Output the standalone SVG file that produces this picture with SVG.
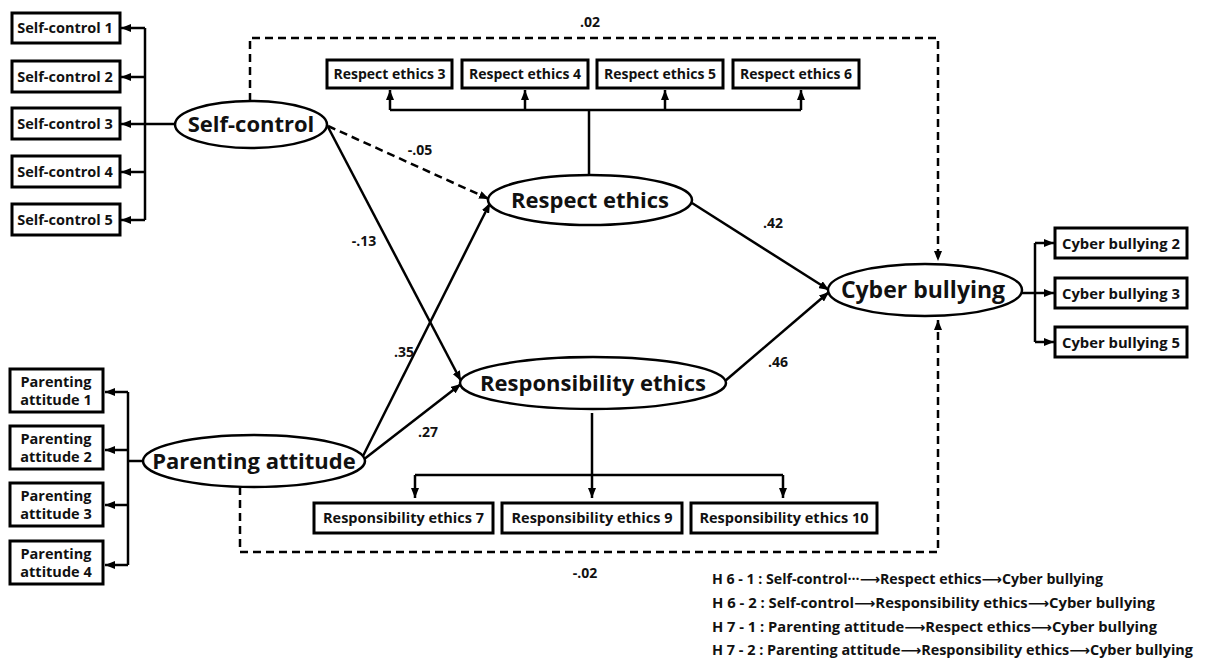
<svg xmlns="http://www.w3.org/2000/svg" width="1208" height="660" viewBox="0 0 1208 660">
<defs>
<marker id="ah" markerUnits="userSpaceOnUse" markerWidth="10" markerHeight="8" refX="10" refY="4" orient="auto">
<path d="M0,0 L10,4 L0,8 z" fill="#000"/>
</marker>
<style>
.box{fill:#fff;stroke:#000;stroke-width:3}
.ell{fill:#fff;stroke:#000;stroke-width:2.5}
.t{font-family:"Open Sans","Noto Sans",sans-serif;font-weight:700;fill:#111;text-anchor:middle}
.bp{font-size:14.5px}
.br{font-size:14px}
.bs{font-size:14.5px}
.bc{font-size:14.8px}
.el{font-size:22px}
.lbl{font-family:"Open Sans","Noto Sans",sans-serif;font-weight:700;font-size:14px;fill:#111;text-anchor:middle}
.lg{font-family:"Open Sans","Noto Sans","DejaVu Sans",sans-serif;font-weight:700;font-size:14px;fill:#111}
.c{fill:none;stroke:#000;stroke-width:2.5}
.d{fill:none;stroke:#000;stroke-width:2.5;stroke-dasharray:8,5}
.a{marker-end:url(#ah)}
</style>
</defs>
<rect width="1208" height="660" fill="#fff"/>

<g id="connectors">
<line class="c" x1="175" y1="124" x2="145" y2="124"/>
<line class="c" x1="145" y1="28" x2="145" y2="220"/>
<line class="c a" x1="145" y1="28" x2="121" y2="28"/>
<line class="c a" x1="145" y1="77" x2="121" y2="77"/>
<line class="c a" x1="145" y1="124" x2="121" y2="124"/>
<line class="c a" x1="145" y1="172" x2="121" y2="172"/>
<line class="c a" x1="145" y1="220" x2="121" y2="220"/>
<line class="c" x1="143" y1="461" x2="128" y2="461"/>
<line class="c" x1="128" y1="392" x2="128" y2="565"/>
<line class="c a" x1="128" y1="392" x2="105" y2="392"/>
<line class="c a" x1="128" y1="450" x2="105" y2="450"/>
<line class="c a" x1="128" y1="505" x2="105" y2="505"/>
<line class="c a" x1="128" y1="565" x2="105" y2="565"/>
<line class="c" x1="589" y1="175" x2="589" y2="110"/>
<line class="c" x1="390" y1="110" x2="801" y2="110"/>
<line class="c a" x1="390" y1="110" x2="390" y2="90"/>
<line class="c a" x1="525" y1="110" x2="525" y2="90"/>
<line class="c a" x1="665" y1="110" x2="665" y2="90"/>
<line class="c a" x1="801" y1="110" x2="801" y2="90"/>
<line class="c" x1="415" y1="475" x2="783" y2="475"/>
<line class="c a" x1="592" y1="413" x2="592" y2="498"/>
<line class="c a" x1="415" y1="475" x2="415" y2="498"/>
<line class="c a" x1="783" y1="475" x2="783" y2="498"/>
<line class="c" x1="1022" y1="293" x2="1035" y2="293"/>
<line class="c" x1="1035" y1="243" x2="1035" y2="342"/>
<line class="c a" x1="1035" y1="243" x2="1054" y2="243"/>
<line class="c a" x1="1035" y1="293" x2="1054" y2="293"/>
<line class="c a" x1="1035" y1="342" x2="1054" y2="342"/>
<line class="d a" x1="328" y1="126" x2="489" y2="199"/>
<line class="c a" x1="328" y1="127" x2="461" y2="381"/>
<line class="c a" x1="363" y1="456" x2="490" y2="203"/>
<line class="c a" x1="363" y1="460" x2="461" y2="384"/>
<line class="c a" x1="692" y1="203" x2="829" y2="290"/>
<line class="c a" x1="725" y1="381" x2="829" y2="292"/>
<polyline class="d a" points="250,101 250,38 938,38 938,261"/>
<polyline class="d a" points="240,487 240,552 938,552 938,320"/>
</g>

<g id="labels">
<text class="lbl" x="590" y="27">.02</text>
<text class="lbl" x="420" y="155">-.05</text>
<text class="lbl" x="364" y="246">-.13</text>
<text class="lbl" x="404" y="357">.35</text>
<text class="lbl" x="428" y="437">.27</text>
<text class="lbl" x="773" y="228">.42</text>
<text class="lbl" x="778" y="367">.46</text>
<text class="lbl" x="585" y="578">-.02</text>
</g>

<g id="self-control"><ellipse class="ell" cx="251" cy="124.5" rx="76" ry="23.5"/><text class="t el" x="251" y="132">Self-control</text></g>
<g id="respect-ethics"><ellipse class="ell" cx="590" cy="200" rx="102" ry="25"/><text class="t el" x="590" y="208">Respect ethics</text></g>
<g id="responsibility-ethics"><ellipse class="ell" cx="593" cy="383" rx="133" ry="26"/><text class="t el" x="593" y="391">Responsibility ethics</text></g>
<g id="parenting-attitude"><ellipse class="ell" cx="254" cy="461" rx="111" ry="26"/><text class="t el" x="254" y="469">Parenting attitude</text></g>
<g id="cyber-bullying"><ellipse class="ell" cx="925" cy="290" rx="97" ry="26"/><text class="t el" x="923" y="298" style="font-size:23px">Cyber bullying</text></g>

<g id="sc1"><rect class="box" x="12" y="13" width="108" height="30"/><text class="t bs" x="65" y="33">Self-control 1</text></g>
<g id="sc2"><rect class="box" x="12" y="61" width="108" height="31"/><text class="t bs" x="65" y="82">Self-control 2</text></g>
<g id="sc3"><rect class="box" x="12" y="108" width="108" height="31"/><text class="t bs" x="65" y="129">Self-control 3</text></g>
<g id="sc4"><rect class="box" x="12" y="156" width="108" height="31"/><text class="t bs" x="65" y="177">Self-control 4</text></g>
<g id="sc5"><rect class="box" x="12" y="204" width="108" height="31"/><text class="t bs" x="65" y="225">Self-control 5</text></g>

<g id="pa1"><rect class="box" x="10" y="369" width="93" height="43"/><text class="t bp" x="56" y="387">Parenting</text><text class="t bp" x="56" y="405">attitude 1</text></g>
<g id="pa2"><rect class="box" x="10" y="426" width="93" height="43"/><text class="t bp" x="56" y="444">Parenting</text><text class="t bp" x="56" y="462">attitude 2</text></g>
<g id="pa3"><rect class="box" x="10" y="483" width="93" height="43"/><text class="t bp" x="56" y="501">Parenting</text><text class="t bp" x="56" y="519">attitude 3</text></g>
<g id="pa4"><rect class="box" x="10" y="541" width="93" height="43"/><text class="t bp" x="56" y="559">Parenting</text><text class="t bp" x="56" y="577">attitude 4</text></g>

<g id="re3"><rect class="box" x="327" y="60" width="125" height="28"/><text class="t br" x="389.5" y="79">Respect ethics 3</text></g>
<g id="re4"><rect class="box" x="462" y="60" width="126" height="28"/><text class="t br" x="525" y="79">Respect ethics 4</text></g>
<g id="re5"><rect class="box" x="597" y="60" width="126" height="28"/><text class="t br" x="660" y="79">Respect ethics 5</text></g>
<g id="re6"><rect class="box" x="733" y="60" width="126" height="28"/><text class="t br" x="796" y="79">Respect ethics 6</text></g>

<g id="rs7"><rect class="box" x="314" y="503" width="179" height="30"/><text class="t bs" x="403.5" y="523">Responsibility ethics 7</text></g>
<g id="rs9"><rect class="box" x="502" y="503" width="180" height="30"/><text class="t bs" x="592" y="523">Responsibility ethics 9</text></g>
<g id="rs10"><rect class="box" x="691" y="503" width="186" height="30"/><text class="t bs" x="784" y="523">Responsibility ethics 10</text></g>

<g id="cb2"><rect class="box" x="1055" y="228" width="132" height="30"/><text class="t bc" x="1121" y="248.5">Cyber bullying 2</text></g>
<g id="cb3"><rect class="box" x="1055" y="278" width="132" height="30"/><text class="t bc" x="1121" y="298.5">Cyber bullying 3</text></g>
<g id="cb5"><rect class="box" x="1055" y="327" width="132" height="30"/><text class="t bc" x="1121" y="347.5">Cyber bullying 5</text></g>

<g id="legend">
<text class="lg" x="712" y="584" textLength="391" lengthAdjust="spacingAndGlyphs">H 6 - 1 : Self-control···⟶Respect ethics⟶Cyber bullying</text>
<text class="lg" x="712" y="608" textLength="443" lengthAdjust="spacingAndGlyphs">H 6 - 2 : Self-control⟶Responsibility ethics⟶Cyber bullying</text>
<text class="lg" x="712" y="632" textLength="445" lengthAdjust="spacingAndGlyphs">H 7 - 1 : Parenting attitude⟶Respect ethics⟶Cyber bullying</text>
<text class="lg" x="712" y="655" textLength="481" lengthAdjust="spacingAndGlyphs">H 7 - 2 : Parenting attitude⟶Responsibility ethics⟶Cyber bullying</text>
</g>
</svg>
